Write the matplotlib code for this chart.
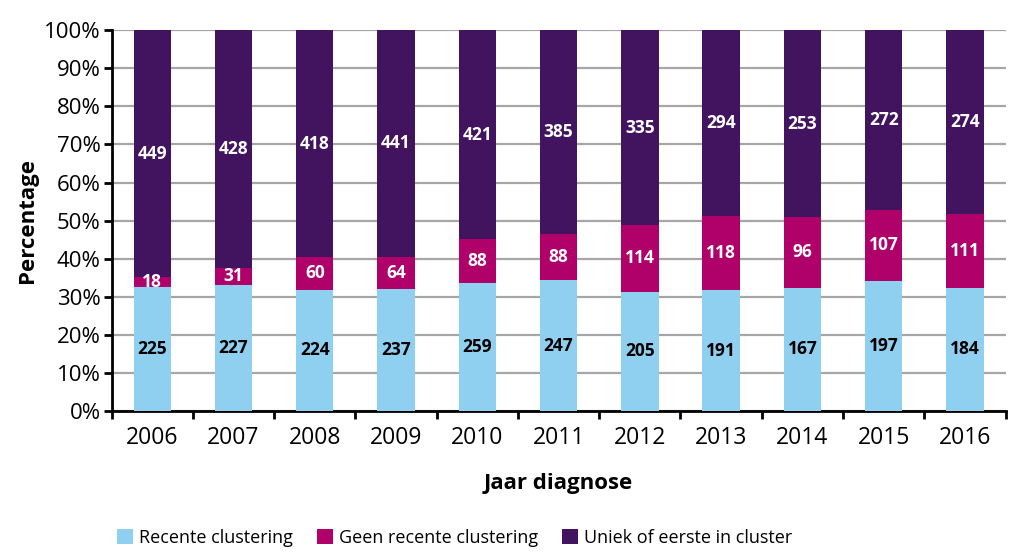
import matplotlib.pyplot as plt
import numpy as np
from matplotlib.ticker import FixedLocator, FuncFormatter

plt.rcParams['font.family'] = ['Open Sans', 'DejaVu Sans']

years = ['2006', '2007', '2008', '2009', '2010', '2011', '2012', '2013', '2014', '2015', '2016']
recent = [225, 227, 224, 237, 259, 247, 205, 191, 167, 197, 184]
geen_recent = [18, 31, 60, 64, 88, 88, 114, 118, 96, 107, 111]
uniek = [449, 428, 418, 441, 421, 385, 335, 294, 253, 272, 274]

series_names = ['Recente clustering', 'Geen recente clustering', 'Uniek of eerste in cluster']
colors = ['#8FD0F0', '#B0006A', '#42145F']
label_colors = ['black', 'white', 'white']

counts = np.array([recent, geen_recent, uniek], dtype=float)
pct = counts / counts.sum(axis=0) * 100

fig = plt.figure(figsize=(10.24, 5.6), dpi=100)
ax = fig.add_axes([0.109, 0.266, 0.873, 0.68])

x = np.arange(len(years))
bottom = np.zeros(len(years))
for i in range(3):
    ax.bar(x, pct[i], bottom=bottom, width=0.46, color=colors[i], label=series_names[i], zorder=3)
    for j in range(len(years)):
        ax.text(x[j], bottom[j] + pct[i][j] / 2, str(int(counts[i][j])), ha='center', va='center',
                fontsize=12.5, fontweight='bold', color=label_colors[i], zorder=4)
    bottom += pct[i]

ax.set_xlim(-0.5, len(years) - 0.5)
ax.set_ylim(0, 100)
ax.set_yticks(np.arange(0, 101, 10))
ax.yaxis.set_major_formatter(FuncFormatter(lambda v, p: f'{int(v)}%'))
ax.grid(axis='y', color='#A6A6A6', linewidth=1.6, zorder=0)

ax.set_xticks(x)
ax.set_xticklabels(years)
ax.xaxis.set_minor_locator(FixedLocator(np.arange(-0.5, len(years), 1)))
ax.tick_params(axis='x', which='major', length=0, pad=11, labelsize=16.5)
ax.tick_params(axis='x', which='minor', length=6, width=2, direction='out')
ax.tick_params(axis='y', length=6, width=2, labelsize=16, pad=2)

for s in ['top', 'right']:
    ax.spines[s].set_visible(False)
ax.spines['left'].set_linewidth(2)
ax.spines['bottom'].set_linewidth(2)

ax.set_ylabel('Percentage', fontsize=16, fontweight='bold', labelpad=4)
ax.set_xlabel('Jaar diagnose', fontsize=16, fontweight='bold', labelpad=16)

handles, labels = ax.get_legend_handles_labels()
fig.legend(handles, labels, loc='lower left', bbox_to_anchor=(0.098, -0.005), ncol=3, frameon=False,
           fontsize=13, handlelength=0.9, handleheight=0.9, handletextpad=0.35, columnspacing=1.3)

fig.savefig('out.png', dpi=100)
